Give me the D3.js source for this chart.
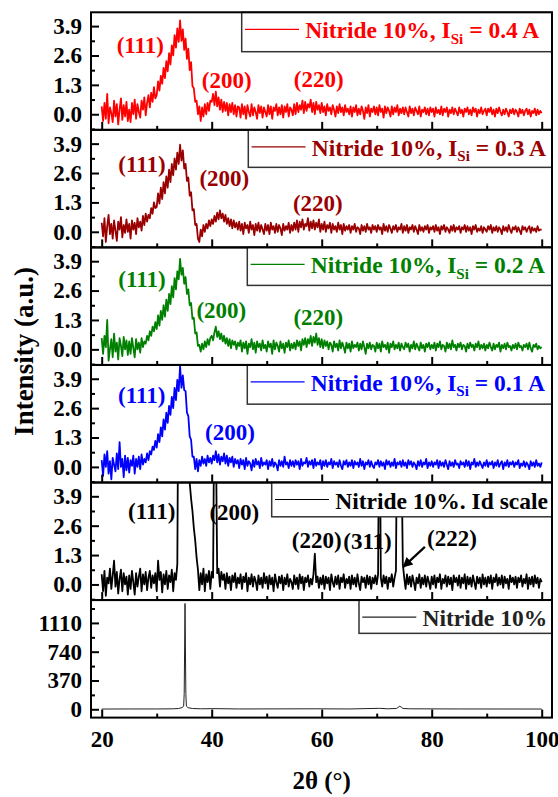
<!DOCTYPE html>
<html>
<head>
<meta charset="utf-8">
<script src="https://cdn.jsdelivr.net/npm/d3@7"></script>
<style>
  html, body { margin: 0; padding: 0; background: #fff; }
  svg { display: block; }
</style>
</head>
<body>
<svg id="chart" width="558" height="797"></svg>
<script>
// ---- Diffraction scans, sampled every 0.25° from 20° to 100° ----
const thetaStart = 20;
const thetaStep = 0.25;

// Nitride 10%, I_Si = 0.4 A
const isi04 = [
  0.35,-0.3,0.5,-0.2,0.9,-0.4,0.3,0.05,-0.35,0.6,-0.1,0.45,-0.45,0.2,0.7,-0.25,0.4,-0.1,0.55,-0.3,
  0.2,-0.35,0.5,0.0,0.65,-0.2,0.45,0.1,-0.15,0.6,0.2,0.75,-0.05,0.5,0.85,0.3,0.95,0.55,1.2,0.7,
  0.85,1.45,1.05,1.7,1.35,2.05,1.6,2.35,1.9,2.7,2.2,3.05,2.6,3.5,2.95,3.8,3.2,4.15,3.25,3.75,
  2.85,3.35,2.45,2.9,1.95,2.3,1.25,1.15,0.55,0.6,0.0,0.35,-0.3,0.3,-0.1,0.45,0.0,0.5,0.15,0.6,
  0.55,0.9,0.4,1.0,0.35,0.75,0.2,0.65,0.1,0.55,0.15,0.5,-0.05,0.45,0.1,0.5,0.0,0.4,-0.1,0.35,
  0.3,-0.15,0.45,0.0,0.35,-0.2,0.4,0.1,-0.1,0.45,-0.05,0.3,0.1,-0.2,0.4,0.05,0.35,-0.15,0.3,0.1,
  -0.1,0.4,0.0,0.35,-0.2,0.3,0.15,0.45,-0.05,0.3,0.0,0.4,-0.15,0.35,0.1,0.45,-0.1,0.3,0.2,-0.05,
  0.45,0.0,0.5,0.1,0.4,0.2,0.6,0.05,0.55,0.15,0.45,0.3,0.65,0.1,0.5,0.0,0.55,0.2,0.4,0.05,
  0.5,0.1,0.35,-0.05,0.45,0.15,0.3,0.0,0.4,0.2,-0.1,0.35,0.05,0.45,0.1,0.3,-0.05,0.4,0.1,0.25,
  0.0,0.35,-0.1,0.3,0.1,0.4,-0.05,0.25,0.0,0.35,0.15,-0.2,0.3,0.05,0.4,-0.1,0.25,0.1,0.35,0.0,
  0.3,-0.05,0.4,0.1,0.25,-0.15,0.35,0.05,0.3,0.15,-0.1,0.35,0.0,0.3,0.1,0.4,-0.05,0.25,0.05,0.3,
  0.0,0.3,0.1,-0.1,0.35,0.05,0.25,-0.05,0.3,0.15,0.0,0.35,-0.1,0.2,0.1,0.3,0.0,0.25,-0.05,0.3,
  0.1,0.25,-0.1,0.3,0.05,0.2,0.0,0.35,-0.05,0.25,0.1,0.3,-0.1,0.2,0.05,0.3,0.0,0.25,0.1,-0.05,
  0.3,0.05,0.2,-0.1,0.25,0.1,0.3,0.0,0.2,-0.05,0.3,0.1,0.25,-0.1,0.2,0.05,0.3,0.0,0.15,0.25,
  -0.05,0.25,0.1,0.3,0.0,0.2,-0.1,0.25,0.05,0.3,0.1,-0.05,0.2,0.0,0.25,0.1,-0.1,0.2,0.05,0.25,
  0.0,0.2,0.1,-0.1,0.25,0.05,0.2,-0.05,0.15,0.25,0.0,0.2,-0.1,0.15,0.05,0.25,-0.05,0.2,0.0,0.15,
  0.05
];

// Nitride 10%, I_Si = 0.3 A
const isi03 = [
  0.4,-0.2,0.6,-0.45,0.25,0.75,-0.1,0.35,-0.3,0.5,0.05,-0.4,0.45,0.1,0.65,-0.25,0.3,-0.05,0.55,0.0,
  0.35,-0.3,0.5,0.1,0.4,-0.1,0.6,0.2,0.45,0.05,0.7,0.3,0.8,0.45,0.75,0.6,1.05,0.8,1.3,1.05,
  1.1,1.7,1.25,1.95,1.45,2.2,1.7,2.45,1.95,2.75,2.2,3.0,2.5,3.25,2.75,3.5,3.0,3.85,3.15,3.6,
  2.8,3.0,2.25,2.4,1.6,1.75,0.95,1.0,0.3,0.35,-0.3,-0.45,0.1,-0.2,0.3,0.0,0.35,0.15,0.5,0.25,
  0.55,0.35,0.7,0.45,0.85,0.55,0.95,0.6,0.8,0.45,0.75,0.35,0.6,0.25,0.55,0.15,0.5,0.2,0.4,0.1,
  0.45,0.05,0.35,-0.1,0.4,0.15,0.3,-0.05,0.45,0.1,0.3,-0.15,0.35,0.05,0.4,0.0,0.3,0.1,-0.1,0.35,
  0.05,0.3,-0.1,0.4,0.1,0.25,-0.05,0.35,0.0,0.3,0.15,-0.15,0.35,0.05,0.25,0.1,0.4,-0.05,0.3,0.05,
  0.4,0.1,0.5,0.0,0.45,0.2,0.55,0.1,0.35,0.25,0.6,0.05,0.45,0.15,0.5,0.1,0.4,0.2,0.55,0.0,
  0.35,0.1,0.45,0.0,0.3,0.15,0.4,-0.05,0.35,0.1,0.25,0.0,0.4,0.1,0.3,-0.1,0.35,0.05,0.25,0.1,
  0.3,-0.05,0.25,0.1,0.35,0.0,0.2,0.15,-0.1,0.3,0.05,0.25,0.0,0.35,0.1,0.2,-0.05,0.3,0.1,0.25,
  0.0,0.3,0.1,0.2,-0.1,0.35,0.05,0.25,0.0,0.3,0.15,-0.05,0.25,0.1,0.3,0.0,0.2,0.1,0.35,-0.05,
  0.25,0.05,0.3,-0.05,0.2,0.1,0.3,0.0,0.25,0.1,-0.1,0.3,0.05,0.2,0.0,0.25,0.1,0.3,-0.05,0.2,
  0.1,0.25,0.0,0.3,0.05,0.2,-0.1,0.25,0.1,0.3,0.0,0.2,0.1,-0.05,0.25,0.05,0.3,0.0,0.2,0.1,
  0.25,-0.05,0.2,0.1,0.3,0.0,0.25,0.05,0.2,-0.1,0.25,0.1,0.3,0.0,0.15,0.05,0.25,-0.05,0.2,0.1,
  0.0,0.25,0.1,0.3,-0.05,0.2,0.05,0.25,0.0,0.2,0.1,-0.1,0.25,0.05,0.2,0.0,0.3,0.1,-0.05,0.2,
  0.1,0.25,0.0,0.2,0.05,-0.1,0.25,0.1,0.2,0.0,0.15,0.25,-0.05,0.2,0.05,0.15,0.0,0.25,0.05,0.1,
  0.1
];

// Nitride 10%, I_Si = 0.2 A
const isi02 = [
  0.5,-0.2,0.6,0.1,1.3,-0.5,0.0,0.45,-0.35,0.7,-0.1,0.3,-0.45,0.5,0.15,-0.3,0.55,0.0,0.4,-0.25,
  0.35,-0.2,0.5,0.05,-0.35,0.45,0.0,0.3,-0.15,0.5,0.1,0.35,0.25,0.6,0.4,0.8,0.6,1.0,0.8,1.2,
  0.9,1.5,1.05,1.7,1.3,1.95,1.45,2.2,1.7,2.45,2.0,2.8,2.3,3.15,2.65,3.45,3.1,4.0,3.3,3.6,
  2.9,3.2,2.45,2.65,1.95,2.05,1.35,1.4,0.7,0.75,0.15,0.2,-0.1,0.25,0.0,0.35,0.1,0.45,0.2,0.5,
  0.6,0.4,0.75,1.0,0.55,0.8,0.45,0.7,0.35,0.6,0.25,0.5,0.15,0.45,0.05,0.4,0.2,0.35,0.0,0.3,
  0.15,0.4,-0.1,0.3,0.05,0.35,-0.2,0.25,0.1,0.45,0.0,0.3,-0.15,0.35,0.1,0.25,-0.05,0.4,0.05,0.2,
  -0.1,0.35,0.1,0.25,-0.2,0.4,0.0,0.3,0.15,-0.1,0.35,0.05,0.25,-0.15,0.3,0.1,0.4,-0.05,0.25,0.05,
  0.3,0.0,0.4,0.15,0.35,-0.05,0.45,0.2,0.5,0.1,0.45,0.25,0.6,0.15,0.55,0.3,0.7,0.2,0.5,0.1,
  0.45,0.05,0.4,0.15,0.35,0.0,0.3,0.2,-0.1,0.35,0.1,0.25,-0.05,0.4,0.05,0.3,0.1,-0.15,0.3,0.05,
  0.25,-0.1,0.35,0.05,0.2,0.1,0.3,-0.05,0.25,0.0,0.35,0.1,-0.2,0.25,0.05,0.3,0.0,0.2,0.15,-0.1,
  0.3,0.05,0.25,-0.1,0.35,0.1,0.2,0.0,0.3,-0.15,0.25,0.1,0.35,0.0,0.2,0.05,0.3,-0.05,0.25,0.1,
  0.0,0.3,0.1,0.25,-0.1,0.2,0.05,0.35,0.0,0.25,0.1,-0.05,0.3,0.05,0.2,-0.1,0.25,0.1,0.3,0.0,
  0.2,0.05,0.3,-0.05,0.25,0.1,0.35,0.0,0.2,0.15,-0.1,0.3,0.05,0.25,0.0,0.4,0.1,0.2,-0.05,0.25,
  0.1,0.3,0.0,0.2,0.15,-0.1,0.25,0.05,0.3,0.1,0.2,-0.05,0.25,0.1,0.35,0.0,0.2,0.05,0.25,-0.05,
  0.2,0.05,0.3,0.1,-0.05,0.25,0.0,0.2,0.1,0.3,-0.1,0.2,0.05,0.25,0.0,0.3,0.1,0.15,-0.05,0.2,
  0.05,0.25,0.0,0.3,0.1,0.15,-0.05,0.2,0.1,0.25,0.0,0.3,0.05,-0.1,0.2,0.1,0.25,0.0,0.15,0.05,
  0.1
];

// Nitride 10%, I_Si = 0.1 A
const isi01 = [
  0.3,-0.4,0.55,0.0,0.7,-0.3,0.25,-0.55,0.4,0.1,-0.2,0.6,-0.1,1.1,0.0,0.35,-0.45,0.5,-0.15,0.4,
  -0.25,0.3,0.05,0.5,-0.3,0.35,0.0,0.45,-0.1,0.55,0.1,0.35,0.2,0.6,0.3,0.7,0.55,0.9,0.75,1.15,
  0.85,1.45,1.1,1.75,1.35,2.1,1.65,2.4,1.95,2.7,2.3,3.1,2.6,3.5,2.95,3.85,3.35,4.45,3.5,4.05,
  3.4,3.35,2.4,2.25,1.35,1.2,0.45,0.45,-0.1,0.35,-0.2,0.3,0.05,0.45,0.15,0.35,0.05,0.5,0.2,0.4,
  0.15,0.5,0.3,0.7,0.2,0.55,0.1,0.45,0.25,0.6,0.15,0.5,0.05,0.4,0.2,0.45,0.0,0.35,0.15,0.3,
  -0.05,0.35,0.1,0.3,-0.1,0.4,0.05,0.25,0.15,-0.15,0.3,0.0,0.35,0.1,0.25,-0.05,0.4,0.05,0.2,0.1,
  0.3,-0.1,0.25,0.05,0.35,0.0,0.2,0.1,-0.15,0.3,0.05,0.25,0.0,0.45,0.1,0.2,-0.05,0.3,0.05,0.25,
  0.0,0.3,0.1,0.25,-0.1,0.35,0.05,0.2,0.15,0.4,0.0,0.25,0.1,0.3,-0.05,0.35,0.05,0.2,0.1,0.3,
  -0.1,0.25,0.05,0.3,0.0,0.2,0.1,0.35,-0.05,0.25,0.1,0.2,0.0,0.3,0.05,-0.1,0.25,0.1,0.3,0.0,
  0.2,0.05,0.3,-0.05,0.25,0.1,0.2,0.0,0.35,0.05,0.25,-0.1,0.2,0.1,0.3,0.0,0.25,0.05,-0.05,0.2,
  0.1,0.3,0.0,0.25,0.05,0.2,-0.1,0.3,0.1,0.25,0.0,0.2,0.05,0.35,-0.05,0.2,0.1,0.25,0.0,0.3,
  0.05,0.2,-0.05,0.3,0.1,0.25,0.0,0.2,0.1,-0.1,0.25,0.05,0.3,0.0,0.2,0.1,0.35,-0.05,0.2,0.05,
  0.25,0.0,0.2,0.1,0.3,-0.05,0.25,0.05,0.2,0.0,0.3,0.1,-0.1,0.25,0.05,0.2,0.0,0.3,0.1,0.15,
  -0.05,0.25,0.1,0.2,0.0,0.3,0.05,0.25,-0.1,0.2,0.1,0.35,0.0,0.2,0.05,0.25,0.1,-0.05,0.2,0.05,
  0.3,0.0,0.2,0.1,0.25,-0.05,0.2,0.05,0.3,0.0,0.15,0.25,-0.1,0.2,0.05,0.3,0.0,0.2,0.1,0.25,
  0.0,0.2,0.1,0.3,-0.05,0.15,0.05,0.25,0.0,0.2,0.1,-0.1,0.25,0.05,0.2,0.0,0.3,0.05,0.15,0.0,
  0.2
];

// Nitride 10%, same scan on the expanded ("Id") scale; strong reflections run off the top
const nitrideLd = [
  0.45,-0.3,0.6,-0.5,0.3,0.05,0.7,-0.2,0.4,1.05,-0.1,0.55,-0.4,0.25,0.65,-0.3,0.5,0.0,0.35,-0.45,
  0.4,-0.2,0.6,0.1,-0.45,0.5,-0.1,0.35,0.7,-0.3,0.45,0.0,0.55,-0.25,0.3,0.6,-0.15,0.4,0.05,0.5,
  -0.3,1.05,0.2,0.55,-0.35,0.45,0.0,0.6,-0.2,0.4,0.1,0.65,-0.3,0.5,0.2,0.9,12,40,60,45,
  25,14,8,5.6,4.5,3.8,3.25,2.5,1.95,1.2,0.65,-0.25,0.5,0.0,0.7,-0.3,0.45,0.1,0.6,-0.2,
  0.55,0.3,9,7,0.5,0.7,-0.1,0.55,0.2,0.45,-0.2,0.5,0.05,0.35,-0.25,0.4,0.1,0.5,-0.15,0.3,
  0.05,0.45,-0.2,0.35,0.1,0.5,-0.3,0.3,0.0,0.45,-0.1,0.35,0.15,-0.25,0.4,0.0,0.3,-0.15,0.5,0.05,
  0.35,-0.2,0.4,0.0,0.3,-0.3,0.45,0.1,-0.15,0.35,0.05,0.4,-0.25,0.3,0.0,0.45,-0.1,0.25,0.1,-0.2,
  0.4,0.0,0.3,-0.2,0.45,0.05,0.35,-0.25,0.3,0.1,0.4,-0.1,0.25,0.0,0.45,1.36,0.1,0.35,-0.15,0.3,
  0.0,0.4,-0.2,0.35,0.05,0.3,-0.25,0.45,0.1,-0.1,0.35,0.0,0.4,-0.2,0.3,0.1,0.45,-0.15,0.25,0.05,
  0.35,-0.2,0.4,0.0,0.3,-0.1,0.45,0.05,-0.25,0.35,0.1,0.3,-0.15,0.4,0.0,0.35,-0.2,0.3,0.05,0.4,
  0.0,0.45,10,0.3,-0.1,0.4,0.05,0.35,-0.2,0.3,0.1,0.45,-0.1,0.3,0.6,9,15,12,6,0.9,
  0.3,-0.2,0.45,0.0,0.35,-0.1,0.4,0.1,-0.25,0.3,0.05,0.45,-0.15,0.3,0.0,0.4,-0.1,0.35,0.1,-0.2,
  0.35,0.0,0.4,-0.15,0.3,0.1,0.45,-0.2,0.25,0.05,0.4,-0.1,0.35,0.0,0.3,-0.25,0.4,0.1,0.3,-0.05,
  0.4,-0.15,0.3,0.05,0.45,-0.2,0.35,0.0,0.3,-0.1,0.4,0.1,-0.2,0.35,0.05,0.3,-0.15,0.45,0.0,0.3,
  -0.1,0.35,0.05,0.4,-0.2,0.3,0.1,0.45,-0.05,0.3,0.0,0.4,-0.15,0.35,0.05,0.25,-0.2,0.4,0.1,0.3,
  0.0,0.35,-0.15,0.3,0.1,0.4,-0.1,0.25,0.05,0.45,-0.2,0.3,0.0,0.35,-0.1,0.4,0.05,0.3,-0.15,0.25,
  0.1
];

// Nitride 10%, raw counts (sparse trace)
const nitrideTheta  = [20, 25, 30, 33, 34, 34.6, 34.9, 35.0, 35.08, 35.15, 35.22, 35.3, 35.4, 35.7, 36.5, 38, 40.6, 45, 58.8, 65, 70.5, 72, 73.6, 73.9, 74.2, 74.5, 74.8, 76, 85, 100];
const nitrideCounts = [3, 4, 4, 6, 10, 22, 40, 200, 800, 1360, 800, 200, 40, 20, 10, 6, 8, 4, 6, 4, 12, 6, 10, 25, 40, 25, 10, 6, 4, 3];

// Legend texts
const legendCurrents = ["0.4", "0.3", "0.2", "0.1"];
const legendPlain = ["Nitride 10%. Id scale", "Nitride 10%"];

// Axis ticks
const xMajor = [20, 40, 60, 80, 100];
const xMinor = [30, 50, 70, 90];
const yMajorSmall = [0, 1.3, 2.6, 3.9];
const yMinorSmall = [-0.65, 0.65, 1.95, 3.25];
const yMajorCounts = [0, 370, 740, 1110];
const yMinorCounts = [185, 555, 925, 1295];

// Reflection labels: [panel, text, 2θ, intensity]
const peakLabels = [
  [0, "(111)", 27.02, 2.69], [0, "(200)", 42.73, 1.16], [0, "(220)", 59.45, 1.21],
  [1, "(111)", 27.33, 2.64], [1, "(200)", 42.29, 2.02], [1, "(220)", 59.3, 0.92],
  [2, "(111)", 27.33, 2.75], [2, "(200)", 41.75, 1.38], [2, "(220)", 59.38, 1.07],
  [3, "(111)", 27.27, 2.82], [3, "(200)", 43.33, 1.19],
  [4, "(111)", 29.09, 2.89], [4, "(200)", 44.11, 2.85], [4, "(220)", 59.09, 1.61],
  [4, "(311)", 68.33, 1.57], [4, "(222)", 83.69, 1.70]
];
// Arrow pointing at the (222) reflection: [from 2θ, from I, to 2θ, to I]
const arrow222 = [78.76, 1.66, 74.84, 0.78];

// ---- Layout ----
const FONT = '"Liberation Serif", "Times New Roman", Tinos, serif';
const frameL = 91, frameR = 552, top0 = 12.3, panelH = 117.55;
const black = "#000";

const toPoints = vals => vals.map((v, k) => [thetaStart + k * thetaStep, v]);

const panels = [
  { points: toPoints(isi04), color: "#ff0000", domain: [-0.69, 4.51], legendLeft: 241.7, legendH: 39.4, current: legendCurrents[0] },
  { points: toPoints(isi03), color: "#9a0000", domain: [-0.69, 4.51], legendLeft: 248.3, legendH: 37.5, current: legendCurrents[1] },
  { points: toPoints(isi02), color: "#008000", domain: [-0.69, 4.51], legendLeft: 247.3, legendH: 38.0, current: legendCurrents[2] },
  { points: toPoints(isi01), color: "#0000ff", domain: [-0.69, 4.51], legendLeft: 247.3, legendH: 39.2, current: legendCurrents[3] },
  { points: toPoints(nitrideLd), color: "#000000", domain: [-0.69, 4.51], legendLeft: 271.7, legendH: 34.3, plain: legendPlain[0] },
  { points: nitrideTheta.map((t, k) => [t, nitrideCounts[k]]), color: "#222222", domain: [-107, 1404], legendLeft: 359, legendH: 33.3, plain: legendPlain[1], counts: true }
];

const x = d3.scaleLinear().domain([20, 100]).range([101.7, 541.7]);

const svg = d3.select("#chart");
const defs = svg.append("defs");

defs.append("marker")
  .attr("id", "arrowHead")
  .attr("viewBox", "0 0 10 10")
  .attr("refX", 9).attr("refY", 5)
  .attr("markerUnits", "userSpaceOnUse")
  .attr("markerWidth", 12).attr("markerHeight", 10)
  .attr("orient", "auto")
  .append("path").attr("d", "M0,0 L10,5 L0,10 z").attr("fill", black);

panels.forEach((p, i) => {
  const top = top0 + i * panelH;
  const bottom = top + panelH;
  const y = d3.scaleLinear().domain(p.domain).range([bottom, top]);
  const g = svg.append("g");

  defs.append("clipPath").attr("id", "clip" + i)
    .append("rect").attr("x", frameL).attr("y", top)
    .attr("width", frameR - frameL).attr("height", panelH);

  const line = d3.line().x(d => x(d[0])).y(d => y(d[1]));
  g.append("path")
    .datum(p.points)
    .attr("clip-path", `url(#clip${i})`)
    .attr("fill", "none")
    .attr("stroke", p.color)
    .attr("stroke-width", p.counts ? 1 : 1.8)
    .attr("stroke-linejoin", "round")
    .attr("d", line);

  // legend box
  const lg = g.append("g");
  lg.append("rect")
    .attr("x", p.legendLeft).attr("y", top)
    .attr("width", frameR - p.legendLeft).attr("height", p.legendH)
    .attr("fill", "#fff").attr("stroke", "#333").attr("stroke-width", 1.5);
  lg.append("line")
    .attr("x1", p.legendLeft + 3.3).attr("x2", p.legendLeft + 57.3)
    .attr("y1", top + 17).attr("y2", top + 17)
    .attr("stroke", p.color).attr("stroke-width", 1.2);
  const lt = lg.append("text")
    .attr("x", p.legendLeft + 63.5).attr("y", top + 26)
    .style("font-size", "23.5px").attr("fill", p.color);
  if (p.plain) {
    lt.text(p.plain);
  } else {
    lt.append("tspan").text("Nitride 10%, I");
    lt.append("tspan").style("font-size", "15px").attr("dy", 5.5).text("Si");
    lt.append("tspan").attr("dy", -5.5).text(" = " + p.current + " A");
  }

  // reflection labels
  peakLabels.filter(d => d[0] === i).forEach(d => {
    g.append("text")
      .attr("x", x(d[2])).attr("y", y(d[3]))
      .attr("text-anchor", "middle")
      .style("font-size", "23px")
      .attr("fill", p.color)
      .text(d[1]);
  });

  if (i === 4) {
    g.append("line")
      .attr("x1", x(arrow222[0])).attr("y1", y(arrow222[1]))
      .attr("x2", x(arrow222[2])).attr("y2", y(arrow222[3]))
      .attr("stroke", black).attr("stroke-width", 2.2)
      .attr("marker-end", "url(#arrowHead)");
  }

  // frame
  g.append("rect")
    .attr("x", frameL).attr("y", top)
    .attr("width", frameR - frameL).attr("height", panelH)
    .attr("fill", "none").attr("stroke", black).attr("stroke-width", 2);

  // y axis (ticks point inward)
  const fmt = p.counts ? d3.format("d") : d3.format(".1f");
  const yAx = g.append("g").attr("transform", `translate(${frameL},0)`)
    .call(d3.axisLeft(y).tickValues(p.counts ? yMajorCounts : yMajorSmall)
      .tickSize(-8).tickPadding(9).tickFormat(fmt));
  const yAxMinor = g.append("g").attr("transform", `translate(${frameL},0)`)
    .call(d3.axisLeft(y).tickValues(p.counts ? yMinorCounts : yMinorSmall)
      .tickSize(-4).tickFormat(""));

  // x axis at the panel bottom
  const xAx = g.append("g").attr("transform", `translate(0,${bottom})`)
    .call(d3.axisBottom(x).tickValues(xMajor).tickSize(-8).tickPadding(12.7)
      .tickFormat(i === panels.length - 1 ? d3.format("d") : ""));
  const xAxMinor = g.append("g").attr("transform", `translate(0,${bottom})`)
    .call(d3.axisBottom(x).tickValues(xMinor).tickSize(-4).tickFormat(""));

  [yAx, yAxMinor, xAx, xAxMinor].forEach(a => {
    a.select(".domain").remove();
    a.selectAll("line").attr("stroke", black).attr("stroke-width", 2);
    a.attr("font-family", null).attr("font-size", null);
    a.selectAll("text").attr("fill", black).style("font-size", "23px");
  });
});

// axis titles
svg.append("text")
  .attr("transform", "translate(33,351.5) rotate(-90)")
  .attr("text-anchor", "middle")
  .style("font-size", "27px")
  .attr("fill", black)
  .text("Intensity (a.u.)");

svg.append("text")
  .attr("x", 321.7).attr("y", 789)
  .attr("text-anchor", "middle")
  .style("font-size", "25px")
  .attr("fill", black)
  .text("2θ (°)");

// serif bold type throughout
svg.selectAll("text").style("font-family", FONT).style("font-weight", "bold");
</script>
</body>
</html>
